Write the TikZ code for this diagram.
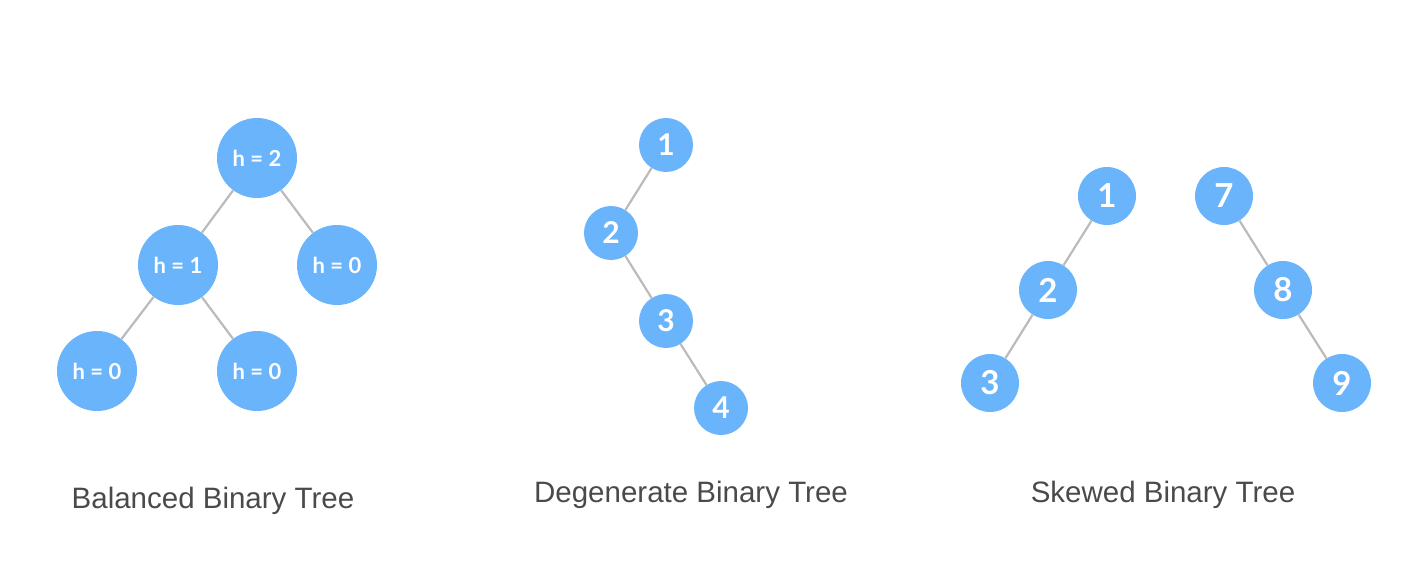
\documentclass[tikz,border=0pt]{standalone}
\usepackage{fontspec}
\setmainfont{Liberation Sans}
\newfontfamily\latofont{Lato}
\definecolor{nodeblue}{HTML}{6AB4FC}
\definecolor{edgegray}{HTML}{BBBBBB}
\definecolor{captiongray}{HTML}{4A4A4A}

\begin{document}
\begin{tikzpicture}[x=1pt,y=-1pt,
    treenode/.style={
% The shape:
circle,
% The size:
minimum size=#1,
inner sep=0pt,
% The fill and text:
fill=nodeblue, text=white,
font=\latofont\bfseries\fontsize{30}{30}\selectfont,
},
    edge/.style={
% The line:
draw=edgegray, line width=2.2pt,
},
    caption/.style={
text=captiongray,
font=\fontsize{29.5}{30}\selectfont,
},
]
  \useasboundingbox (0,0) rectangle (1420,580);
  % Balanced tree
  \node[treenode=80pt, font=\latofont\bfseries\fontsize{22}{22}\selectfont] (b2) at (257,158) {h = 2};
  \node[treenode=80pt, font=\latofont\bfseries\fontsize{22}{22}\selectfont] (b1) at (178,265) {h = 1};
  \node[treenode=80pt, font=\latofont\bfseries\fontsize{22}{22}\selectfont] (b0r) at (337,265) {h = 0};
  \node[treenode=80pt, font=\latofont\bfseries\fontsize{22}{22}\selectfont] (b0a) at (97,371) {h = 0};
  \node[treenode=80pt, font=\latofont\bfseries\fontsize{22}{22}\selectfont] (b0b) at (257,371) {h = 0};
  \draw[edge] (b2) -- (b1);
  \draw[edge] (b2) -- (b0r);
  \draw[edge] (b1) -- (b0a);
  \draw[edge] (b1) -- (b0b);
  \node[caption] (balanced) at (213,501) {Balanced Binary Tree};

  % Degenerate tree
  \node[treenode=54pt] (d1) at (666,145) {1};
  \node[treenode=54pt] (d2) at (611,233) {2};
  \node[treenode=54pt] (d3) at (666,321) {3};
  \node[treenode=54pt] (d4) at (721,408) {4};
  \draw[edge] (d1) -- (d2);
  \draw[edge] (d2) -- (d3);
  \draw[edge] (d3) -- (d4);
  \node[caption] (degenerate) at (691,495) {Degenerate Binary Tree};

  % Skewed trees
  \node[treenode=58pt, font=\latofont\bfseries\fontsize{33}{33}\selectfont] (s1) at (1107,196) {1};
  \node[treenode=58pt, font=\latofont\bfseries\fontsize{33}{33}\selectfont] (s2) at (1048,290) {2};
  \node[treenode=58pt, font=\latofont\bfseries\fontsize{33}{33}\selectfont] (s3) at (990,383) {3};
  \node[treenode=58pt, font=\latofont\bfseries\fontsize{33}{33}\selectfont] (s7) at (1224,196) {7};
  \node[treenode=58pt, font=\latofont\bfseries\fontsize{33}{33}\selectfont] (s8) at (1283,290) {8};
  \node[treenode=58pt, font=\latofont\bfseries\fontsize{33}{33}\selectfont] (s9) at (1342,383) {9};
  \draw[edge] (s1) -- (s2);
  \draw[edge] (s2) -- (s3);
  \draw[edge] (s7) -- (s8);
  \draw[edge] (s8) -- (s9);
  \node[caption] (skewed) at (1163,495) {Skewed Binary Tree};
\end{tikzpicture}
\end{document}
